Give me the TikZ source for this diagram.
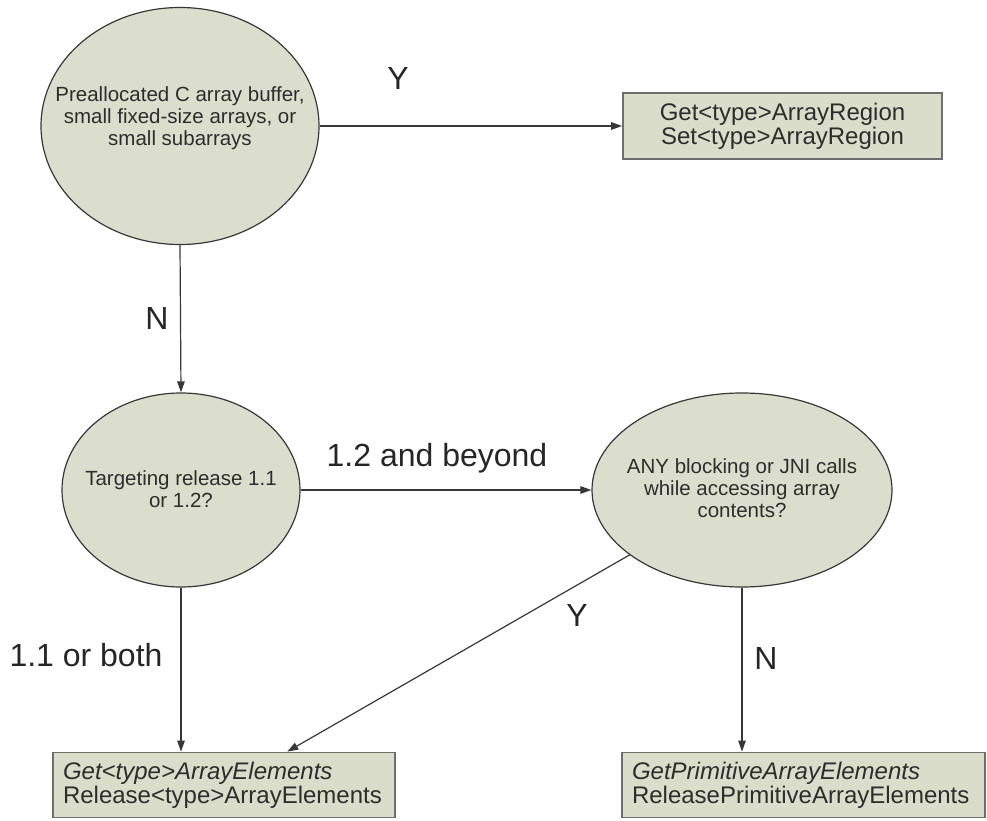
\documentclass[tikz,border=0pt]{standalone}
\usepackage{fontspec}
\setmainfont{Liberation Sans}
\usetikzlibrary{shapes.geometric,arrows.meta,calc}
\definecolor{nodefill}{RGB}{220,222,205}
\definecolor{boxfill}{RGB}{218,221,202}
\definecolor{edgegray}{RGB}{55,55,55}
\definecolor{boxline}{RGB}{110,110,110}
\definecolor{inkgray}{RGB}{45,45,45}
\begin{document}
\begin{tikzpicture}[x=1pt,y=-1pt,
  decision/.style={ellipse, draw=edgegray, line width=1.2pt, fill=nodefill, inner sep=0pt},
  qtext/.style={text=inkgray, align=center, inner sep=0pt, font=\fontsize{20.5}{22}\selectfont},
  outbox/.style={rectangle, draw=boxline, line width=1.8pt, fill=boxfill, inner ysep=0pt, inner xsep=10pt,
    text=inkgray, font=\fontsize{24}{24}\selectfont},
  flow/.style={draw=edgegray, line width=1.2pt, -{Triangle[length=11pt,width=7.5pt]}},
  branch/.style={text=black!85, inner sep=0pt, font=\fontsize{32}{32}\selectfont}]
\useasboundingbox (0,0) rectangle (987,821);

% decisions
\node[decision, minimum width=278pt, minimum height=237pt] (e1) at (180,126) {};
\node[qtext] (e1t) at (180,118) {Preallocated C array buffer,\\small fixed-size arrays, or\\small subarrays};
\node[decision, minimum width=238pt, minimum height=194pt] (e2) at (181,490) {};
\node[qtext] (e2t) at (181,489) {Targeting release 1.1\\or 1.2?};
\node[decision, minimum width=300pt, minimum height=194pt] (e3) at (742,490) {};
\node[qtext] (e3t) at (742,488) {ANY blocking or JNI calls\\while accessing array\\contents?};

% outcomes
\node[outbox, minimum width=319pt, minimum height=66pt, align=center] (b1) at (782.5,126)
  {Get<type>ArrayRegion\\Set<type>ArrayRegion};
\node[outbox, minimum height=65pt, text width=322pt, align=left] (b2) at (224,785)
  {\textit{Get<type>ArrayElements}\\Release<type>ArrayElements};
\node[outbox, minimum height=65pt, text width=343pt, align=left] (b3) at (803.5,785)
  {\textit{GetPrimitiveArrayElements}\\ReleasePrimitiveArrayElements};

% connectors
\draw[flow] (e1.east) -- (b1.west);
\draw[flow] (e1.south) -- (e2.north);
\draw[flow] (e2.east) -- (e3.west);
\draw[flow] (e2.south) -- (e2.south |- b2.north);
\draw[flow] (e3.210) -- ($(b2.north west)!0.684!(b2.north east)$);
\draw[flow] (e3.south) -- (e3.south |- b3.north);

% branch labels
\node[branch] (ly1) at (398,78) {Y};
\node[branch] (ln1) at (157,318) {N};
\node[branch] (l12) at (437,458) {1.2 and beyond};
\node[branch] (ly2) at (577,615) {Y};
\node[branch] (l11) at (86,655) {1.1 or both};
\node[branch] (ln2) at (766,658) {N};
\end{tikzpicture}
\end{document}
